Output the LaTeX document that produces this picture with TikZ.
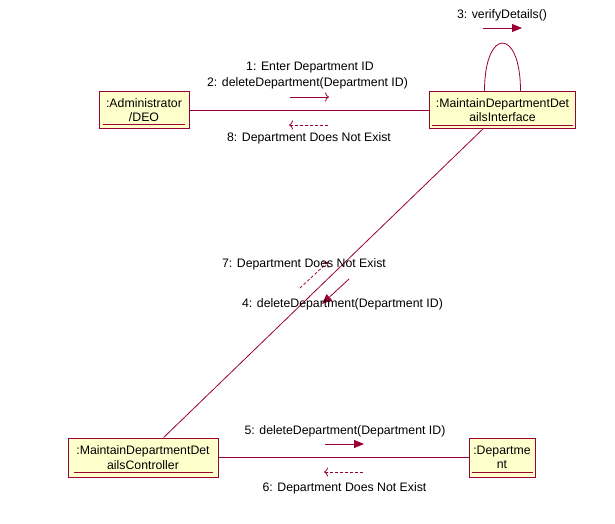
\documentclass[tikz,border=0pt]{standalone}
\usepackage{fontspec}
\setmainfont{Liberation Sans}
\usetikzlibrary{arrows.meta,calc}
\definecolor{umlline}{RGB}{153,0,51}
\definecolor{umlfill}{RGB}{255,255,204}
\begin{document}
\begin{tikzpicture}[x=1pt,y=-1pt,
  every node/.style={font=\fontsize{12.3}{14.5}\selectfont, text=black},
  objbox/.style={draw=umlline, fill=umlfill, line width=0.9pt, inner sep=0pt, align=center},
  link/.style={draw=umlline, line width=0.8pt},
  ulined/.style={draw=umlline, line width=0.9pt},
  callmsg/.style={draw=umlline, line width=0.8pt, -{Triangle[length=10pt,width=8pt]}},
  sendmsg/.style={draw=umlline, line width=0.8pt, -{To[length=4pt,width=9pt]}},
  retmsg/.style={draw=umlline, line width=0.8pt, dash pattern=on 3pt off 2pt, -{To[length=4pt,width=9pt]}},
  lbl/.style={inner sep=0pt}
]
\useasboundingbox (0,0) rectangle (615,523);

% objects
\node[objbox, minimum width=90, minimum height=37] (adm) at (144,110) {:Administrator\\/DEO};
\node[objbox, minimum width=146, minimum height=37] (intf) at (502.5,110) {:MaintainDepartmentDet\\ailsInterface};
\node[objbox, minimum width=150, minimum height=39] (ctrl) at (143,457.5) {:MaintainDepartmentDet\\ailsController};
\node[objbox, minimum width=66, minimum height=39] (dept) at (502,457.5) {:Departme\\nt};

% underlines
\draw[ulined] ($(adm.south west)+(4,-5)$) -- ($(adm.south east)+(-4,-5)$);
\draw[ulined] ($(intf.south west)+(3,-4)$) -- ($(intf.south east)+(-3,-4)$);
\draw[ulined] ($(ctrl.south west)+(6,-5)$) -- ($(ctrl.south east)+(-5,-5)$);
\draw[ulined] ($(dept.south west)+(3,-5)$) -- ($(dept.south east)+(-2,-5)$);

% links
\draw[link] (adm.east) -- (intf.west);
\draw[link] (intf) -- (ctrl);
\draw[link] (ctrl.east) -- (dept.west);
\draw[link] ([xshift=-18pt]intf.north) .. controls +(0,-64) and +(0,-64) .. ([xshift=18pt]intf.north);

% messages
\coordinate (m3a) at (483,28); \coordinate (m3b) at (522,28);
\draw[callmsg] (m3a) -- (m3b);
\node[lbl] (t3) at (502,15) {3: verifyDetails()};

\coordinate (m1a) at (290,97); \coordinate (m1b) at (329,97);
\draw[sendmsg] (m1a) -- (m1b);
\node[lbl] (t1) at (310,68) {1: Enter Department ID};
\node[lbl] (t2) at (307.5,83) {2: deleteDepartment(Department ID)};

\coordinate (m8a) at (328,125); \coordinate (m8b) at (289,125);
\draw[retmsg] (m8a) -- (m8b);
\node[lbl] (t8) at (309,138) {8: Department Does Not Exist};

\coordinate (m4a) at (349,279); \coordinate (m4b) at (322,304);
\draw[callmsg] (m4a) -- (m4b);
\node[lbl] (t4) at (342.5,304) {4: deleteDepartment(Department ID)};

\coordinate (m7a) at (300,288); \coordinate (m7b) at (328,262);
\draw[retmsg] (m7a) -- (m7b);
\node[lbl] (t7) at (304,264) {7: Department Does Not Exist};

\coordinate (m5a) at (325,444); \coordinate (m5b) at (364,444);
\draw[callmsg] (m5a) -- (m5b);
\node[lbl] (t5) at (345,431) {5: deleteDepartment(Department ID)};

\coordinate (m6a) at (363,472); \coordinate (m6b) at (324,472);
\draw[retmsg] (m6a) -- (m6b);
\node[lbl] (t6) at (344.5,488) {6: Department Does Not Exist};
\end{tikzpicture}
\end{document}
